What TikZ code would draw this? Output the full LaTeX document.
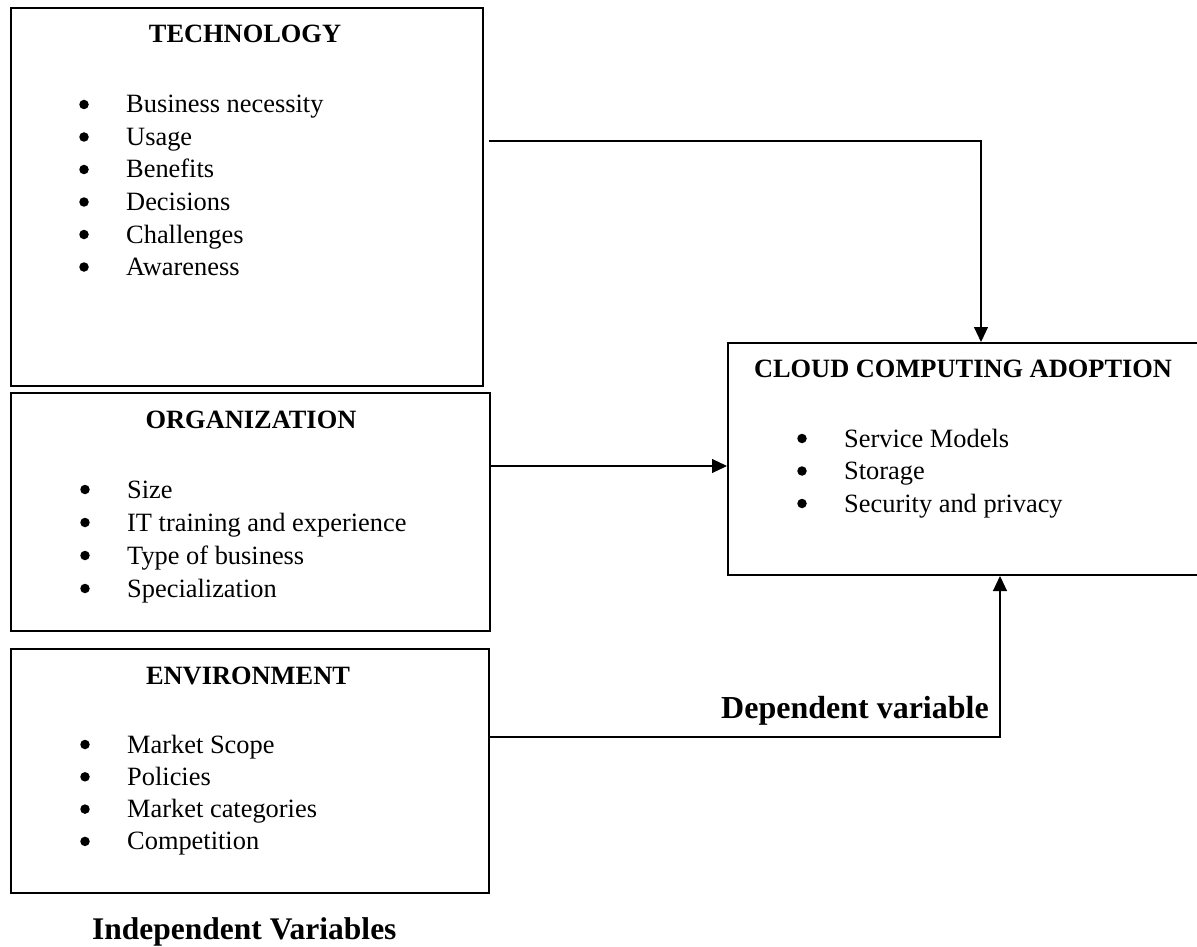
\documentclass[tikz,border=0pt]{standalone}
\usepackage{fontspec}
\setmainfont{Liberation Serif}
\usetikzlibrary{arrows.meta}

\begin{document}
\begin{tikzpicture}[x=1pt,y=-1pt,
  box/.style={draw=black,line width=2pt,rectangle,anchor=north west,inner sep=0pt},
  head/.style={anchor=base,inner sep=0pt,font=\fontsize{26.4pt}{32pt}\selectfont\bfseries},
  itm/.style={anchor=base west,inner sep=0pt,font=\fontsize{26.4pt}{32pt}\selectfont},
  bul/.style={circle,fill=black,inner sep=0pt,minimum size=9.5pt},
  caption/.style={anchor=base west,inner sep=0pt,font=\bfseries},
  conn/.style={draw=black,line width=1.1pt,-{Triangle[length=15pt,width=14pt]}}]

\useasboundingbox (0,0) rectangle (1197,947);

% boxes
\node[box,minimum width=472pt,minimum height=378pt] (tech) at (10,7) {};
\node[box,minimum width=479pt,minimum height=238pt] (org) at (10,392) {};
\node[box,minimum width=478pt,minimum height=244pt] (env) at (10,648) {};
\node[box,minimum width=475pt,minimum height=232pt] (cloud) at (727,342) {};

% technology
\node[head] (techT) at (245,43) {TECHNOLOGY};
\foreach \t [count=\i] in {Business necessity,Usage,Benefits,Decisions,Challenges,Awareness}{
  \pgfmathsetmacro{\yy}{113+(\i-1)*32.5}
  \node[bul] (tb\i) at (84,\yy-8.5) {};
  \node[itm] (ti\i) at (126,\yy) {\t};
}

% organization
\node[head] (orgT) at (251,428) {ORGANIZATION};
\foreach \t [count=\i] in {Size,IT training and experience,Type of business,Specialization}{
  \pgfmathsetmacro{\yy}{498+(\i-1)*33}
  \node[bul] (ob\i) at (85,\yy-8.5) {};
  \node[itm] (oi\i) at (127,\yy) {\t};
}

% environment
\node[head] (envT) at (248,684) {ENVIRONMENT};
\foreach \t [count=\i] in {Market Scope,Policies,Market categories,Competition}{
  \pgfmathsetmacro{\yy}{753+(\i-1)*32.3}
  \node[bul] (eb\i) at (85,\yy-8.5) {};
  \node[itm] (ei\i) at (127,\yy) {\t};
}

% dependent variable box
\node[head] (cloudT) at (963,377) {CLOUD COMPUTING ADOPTION};
\foreach \t [count=\i] in {Service Models,Storage,Security and privacy}{
  \pgfmathsetmacro{\yy}{447+(\i-1)*32.5}
  \node[bul] (cb\i) at (802,\yy-8.5) {};
  \node[itm] (ci\i) at (844,\yy) {\t};
}

% captions
\node[caption,font=\fontsize{32pt}{38pt}\selectfont\bfseries] (dep) at (721,718) {Dependent variable};
\node[caption,font=\fontsize{31.5pt}{37pt}\selectfont\bfseries] (indep) at (92,939) {Independent Variables};

% connectors
\draw[conn] ([xshift=5pt,yshift=-134pt]tech.north east) -| ([xshift=254pt]cloud.north west);
\draw[conn] ([yshift=-74pt]org.north east) -- ([yshift=-124pt]cloud.north west);
\draw[conn] ([yshift=-89pt]env.north east) -| ([xshift=273pt]cloud.south west);

\end{tikzpicture}
\end{document}
